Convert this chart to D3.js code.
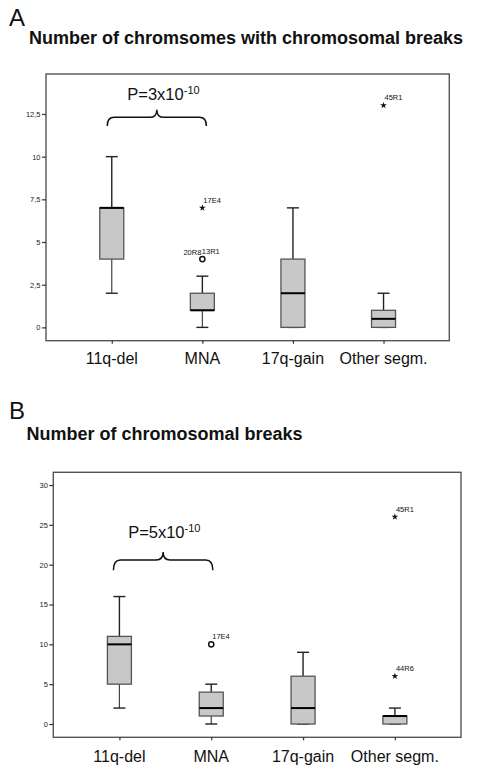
<!DOCTYPE html>
<html>
<head>
<meta charset="utf-8">
<script src="https://cdn.jsdelivr.net/npm/d3@7"></script>
<style>
body { margin: 0; background: #fff; }
svg { display: block; font-family: "Liberation Sans", Arial, sans-serif; }
</style>
</head>
<body>
<svg id="chart" width="490" height="780"></svg>
<script>
// ---------- DATA ----------
const categories = ["11q-del", "MNA", "17q-gain", "Other segm."];

// Panel A: Number of chromosomes with chromosomal breaks
const aMin = [2, 0, 0, 0];
const aQ1 = [4, 1, 0, 0];
const aMedian = [7, 1, 2, 0.5];
const aQ3 = [7, 2, 4, 1];
const aMax = [10, 3, 7, 2];
const aOutCat = ["MNA", "MNA", "Other segm."];
const aOutVal = [4, 7, 13];
const aOutType = ["circle", "star", "star"];
const aOutLabel = [["20R8", "13R1"], ["17E4"], ["45R1"]];
const aTicks = [0, 2.5, 5, 7.5, 10, 12.5];
const aTickLabels = ["0", "2,5", "5", "7,5", "10", "12,5"];

// Panel B: Number of chromosomal breaks
const bMin = [2, 0, 0, 0];
const bQ1 = [5, 1, 0, 0];
const bMedian = [10, 2, 2, 1];
const bQ3 = [11, 4, 6, 1];
const bMax = [16, 5, 9, 2];
const bOutCat = ["MNA", "Other segm.", "Other segm."];
const bOutVal = [10, 26, 6];
const bOutType = ["circle", "star", "star"];
const bOutLabel = [["17E4"], ["45R1"], ["44R6"]];
const bTicks = [0, 5, 10, 15, 20, 25, 30];
const bTickLabels = ["0", "5", "10", "15", "20", "25", "30"];

const panels = [
  {
    letter: "A", title: "Number of chromsomes with chromosomal breaks",
    letterY: 26, titleX: 29, titleY: 44,
    frame: { x0: 46, x1: 449.3, y0: 74, y1: 340.7 },
    domain: [-0.78, 14.84], pad: 0.726,
    min: aMin, q1: aQ1, med: aMedian, q3: aQ3, max: aMax,
    outCat: aOutCat, outVal: aOutVal, outType: aOutType, outLabel: aOutLabel,
    ticks: aTicks, tickLabels: aTickLabels,
    pText: "3", pVal: 13.3, pOff: -29.5, braceFlat: 12.3, braceTip: 12.75, braceEnd: 11.8,
    braceL: -4.5, braceR: 4, labelY: 364
  },
  {
    letter: "B", title: "Number of chromosomal breaks",
    letterY: 419, titleX: 26.5, titleY: 440,
    frame: { x0: 53.3, x1: 461, y0: 472.3, y1: 737.3 },
    domain: [-1.67, 31.6], pad: 0.72,
    min: bMin, q1: bQ1, med: bMedian, q3: bQ3, max: bMax,
    outCat: bOutCat, outVal: bOutVal, outType: bOutType, outLabel: bOutLabel,
    ticks: bTicks, tickLabels: bTickLabels,
    pText: "5", pVal: 23.3, pOff: -35, braceFlat: 20.6, braceTip: 21.6, braceEnd: 19.3,
    braceL: -6, braceR: 1.6, labelY: 761.5
  }
];

const svg = d3.select("#chart");
const boxW = 24, capW = 12;

panels.forEach(p => {
  const g = svg.append("g");
  const f = p.frame;
  const x = d3.scalePoint().domain(categories).range([f.x0, f.x1]).padding(p.pad);
  const y = d3.scaleLinear().domain(p.domain).range([f.y1, f.y0]);

  // Panel letter and title
  g.append("text").attr("x", 9).attr("y", p.letterY)
    .attr("font-size", 24).attr("fill", "#111").text(p.letter);
  g.append("text").attr("x", p.titleX).attr("y", p.titleY)
    .attr("font-size", 18).attr("font-weight", "bold").attr("fill", "#111").text(p.title);

  // Frame
  g.append("rect").attr("x", f.x0).attr("y", f.y0)
    .attr("width", f.x1 - f.x0).attr("height", f.y1 - f.y0)
    .attr("fill", "none").attr("stroke", "#555").attr("stroke-width", 1.4);

  // Y axis
  const yAxis = d3.axisLeft(y).tickValues(p.ticks).tickSize(4).tickPadding(1.5)
    .tickFormat((d, i) => p.tickLabels[i]);
  const ya = g.append("g").attr("transform", `translate(${f.x0},0)`).call(yAxis);
  ya.select(".domain").remove();
  ya.selectAll("line").attr("stroke", "#333").attr("stroke-width", 1.2);
  ya.selectAll("text").attr("font-size", 7.5).attr("fill", "#222")
    .attr("font-family", "'Liberation Sans', Arial, sans-serif");

  // X axis
  const xAxis = d3.axisBottom(x).tickSize(3).tickFormat(() => "");
  const xa = g.append("g").attr("transform", `translate(0,${f.y1})`).call(xAxis);
  xa.select(".domain").remove();
  xa.selectAll("line").attr("stroke", "#333").attr("stroke-width", 1.2);

  // Category labels
  g.selectAll(".cat").data(categories).enter().append("text")
    .attr("x", d => x(d)).attr("y", p.labelY)
    .attr("text-anchor", "middle").attr("font-size", 16).attr("fill", "#111")
    .text(d => d);

  // Boxes
  categories.forEach((c, i) => {
    const cx = x(c);
    const bg = g.append("g");
    bg.append("line").attr("x1", cx).attr("x2", cx)
      .attr("y1", y(p.q3[i])).attr("y2", y(p.max[i]))
      .attr("stroke", "#222").attr("stroke-width", 1.4);
    bg.append("line").attr("x1", cx).attr("x2", cx)
      .attr("y1", y(p.q1[i])).attr("y2", y(p.min[i]))
      .attr("stroke", "#444").attr("stroke-width", 1.2);
    [p.max[i], p.min[i]].forEach(v => {
      bg.append("line").attr("x1", cx - capW / 2).attr("x2", cx + capW / 2)
        .attr("y1", y(v)).attr("y2", y(v))
        .attr("stroke", "#222").attr("stroke-width", 1.4);
    });
    bg.append("rect").attr("x", cx - boxW / 2).attr("y", y(p.q3[i]))
      .attr("width", boxW).attr("height", Math.max(0, y(p.q1[i]) - y(p.q3[i])))
      .attr("fill", "#c8c8c8").attr("stroke", "#555").attr("stroke-width", 1.3);
    bg.append("line").attr("x1", cx - boxW / 2).attr("x2", cx + boxW / 2)
      .attr("y1", y(p.med[i])).attr("y2", y(p.med[i]))
      .attr("stroke", "#000").attr("stroke-width", 2);
  });

  // Outliers
  p.outVal.forEach((v, i) => {
    const cx = x(p.outCat[i]), cy = y(v);
    if (p.outType[i] === "circle") {
      g.append("circle").attr("cx", cx).attr("cy", cy).attr("r", 2.6)
        .attr("fill", "none").attr("stroke", "#111").attr("stroke-width", 1.5);
    } else {
      g.append("path").attr("transform", `translate(${cx},${cy})`)
        .attr("d", d3.symbol().type(d3.symbolStar).size(14)())
        .attr("fill", "#111");
    }
    const labs = p.outLabel[i];
    if (labs.length === 2) {
      g.append("text").attr("x", cx - 1).attr("y", cy - 4.5)
        .attr("text-anchor", "end").attr("font-size", 7.5).attr("fill", "#111").text(labs[0]);
      g.append("text").attr("x", cx - 0.5).attr("y", cy - 5.5)
        .attr("font-size", 7.5).attr("fill", "#111").text(labs[1]);
    } else {
      g.append("text").attr("x", cx + 1).attr("y", cy - 5)
        .attr("font-size", 7.5).attr("fill", "#111").text(labs[0]);
    }
  });

  // Brace + P-value annotation
  const bx0 = x(categories[0]) + p.braceL, bx1 = x(categories[1]) + p.braceR;
  const bm = (bx0 + bx1) / 2;
  const yf = y(p.braceFlat), yt = y(p.braceTip), ye = y(p.braceEnd);
  const r = 7;
  const path = d3.path();
  path.moveTo(bx0, ye);
  path.quadraticCurveTo(bx0, yf, bx0 + r, yf);
  path.lineTo(bm - r, yf);
  path.quadraticCurveTo(bm, yf, bm, yt);
  path.quadraticCurveTo(bm, yf, bm + r, yf);
  path.lineTo(bx1 - r, yf);
  path.quadraticCurveTo(bx1, yf, bx1, ye);
  g.append("path").attr("d", path.toString())
    .attr("fill", "none").attr("stroke", "#111").attr("stroke-width", 1.5);

  const pt = g.append("text").attr("x", bm + p.pOff).attr("y", y(p.pVal))
    .attr("font-size", 16.5).attr("fill", "#111");
  pt.append("tspan").text(`P=${p.pText}x10`);
  pt.append("tspan").attr("font-size", 11).attr("dy", -6.5).text("-10");
});
</script>
</body>
</html>
